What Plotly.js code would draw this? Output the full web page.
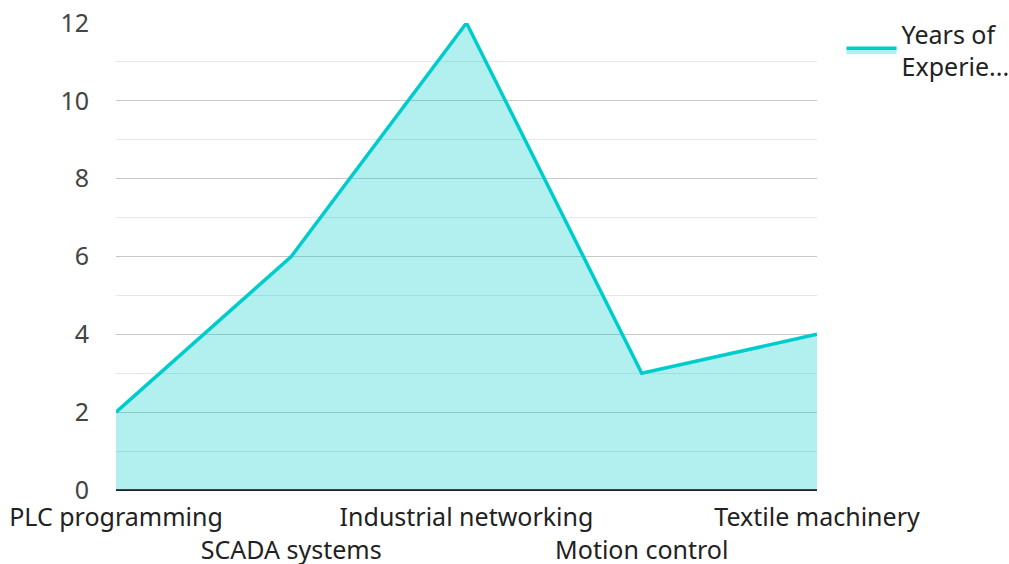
<!DOCTYPE html>
<html><head><meta charset="utf-8">
<script src="https://cdn.plot.ly/plotly-3.0.1.min.js"></script>
<style>body{margin:0;background:#fff}</style>
</head><body>
<div id="chart" style="width:1009px;height:564px"></div>
<script>
const categories = ["PLC programming","SCADA systems","Industrial networking","Motion control","Textile machinery"];
const years = [2, 6, 12, 3, 4];
const seriesName = "Years of<br>Experie...";
const yTicks = [0, 2, 4, 6, 8, 10, 12];

const ticktext = categories.map((c, i) => i % 2 ? "<br>" + c : c);

Plotly.newPlot("chart", [{
  type: "scatter",
  mode: "lines",
  x: categories.map((c, i) => i),
  y: years,
  name: seriesName,
  fill: "tozeroy",
  fillcolor: "rgba(0,204,204,0.3)",
  line: {color: "#00CCCC", width: 3.5},
  cliponaxis: false,
  hoverinfo: "none"
}], {
  width: 1009, height: 564,
  margin: {l: 116, r: 192, t: 23, b: 74, pad: 0, autoexpand: false},
  paper_bgcolor: "#fff", plot_bgcolor: "#fff",
  font: {family: "Noto Sans", size: 24, color: "#444"},
  showlegend: true,
  legend: {x: 1.035, y: 1.025, xanchor: "left", yanchor: "top", font: {size: 25, color: "#222"}, itemwidth: 50, tracegroupgap: 0},
  xaxis: {
    range: [0, 4], tickmode: "array", tickvals: categories.map((c, i) => i), ticktext: ticktext,
    tickangle: 0, showgrid: false, zeroline: false, showline: false, ticks: "",
    ticklabelstandoff: 10, automargin: false,
    tickfont: {size: 25, color: "#222"}, fixedrange: true
  },
  yaxis: {
    range: [0, 12], tickmode: "array", tickvals: yTicks,
    showgrid: true, gridcolor: "#c8c8c8", gridwidth: 1,
    minor: {dtick: 1, showgrid: true, gridcolor: "#e6e6e6", gridwidth: 1},
    zeroline: true, zerolinecolor: "#222", zerolinewidth: 2,
    ticks: "", ticklabelstandoff: 26, automargin: false,
    tickfont: {size: 25, color: "#444"}, fixedrange: true
  }
}, {staticPlot: true});
</script>
</body></html>
